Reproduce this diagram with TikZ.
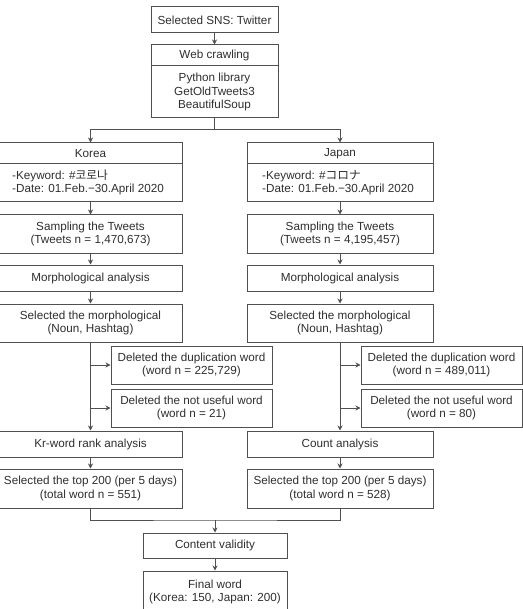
\documentclass[tikz,border=0pt]{standalone}
\usepackage{fontspec}
\setmainfont{Liberation Sans}
\newfontfamily\krfont{Noto Sans CJK KR}
\newfontfamily\jpfont{Noto Sans CJK JP}
\usetikzlibrary{arrows.meta}
\definecolor{ink}{HTML}{2E2E2E}
\definecolor{edge}{HTML}{505050}
\begin{document}
\begin{tikzpicture}[x=1pt,y=-1pt,
  box/.style={draw=edge, line width=1pt, text=ink, inner sep=0pt, align=center,
    font=\fontsize{11.7}{13.3}\selectfont},
  lbl/.style={text=ink, inner sep=0pt, align=center, font=\fontsize{11.7}{13.3}\selectfont},
  conn/.style={draw=edge, line width=1pt},
  arr/.style={conn, -{Stealth[length=5pt,width=5pt]}}]
\useasboundingbox (0,0) rectangle (522,609);
% top
\node[box, minimum width=127pt, minimum height=26pt] (sns) at (214.5,20) {Selected SNS: Twitter};
\node[box, minimum width=127pt, minimum height=73pt] (web) at (214.5,81.5) {};
\draw[conn] (web.west |- 0,66) -- (web.east |- 0,66);
\node[lbl] (webh) at (214.5,55.5) {Web crawling};
\node[lbl] (webb) at (214.5,92) {Python library\\GetOldTweets3\\BeautifulSoup};
\draw[arr] (sns) -- (web);
% countries
\node[box, minimum width=183pt, minimum height=59pt] (kor) at (90.5,172.5) {};
\draw[conn] (kor.west |- 0,164) -- (kor.east |- 0,164);
\node[lbl] (korh) at (90.5,154) {Korea};
\node[lbl, anchor=west, align=left] (korb) at (12,182.5) {-Keyword: \#{\krfont 코로나}\\-Date: 01.Feb.−30.April 2020};
\node[box, minimum width=186pt, minimum height=59pt] (jap) at (340,172.5) {};
\draw[conn] (jap.west |- 0,164) -- (jap.east |- 0,164);
\node[lbl] (japh) at (340,154) {Japan};
\node[lbl, anchor=west, align=left] (japb) at (262,182.5) {-Keyword: \#{\jpfont コロナ}\\-Date: 01.Feb.−30.April 2020};
\coordinate (split) at (214.5,130);
\draw[conn] (web.south) -- (split);
\draw[arr] (split) -| (kor.north);
\draw[arr] (split) -| (jap.north);
% Korea column
\node[box, minimum width=183pt, minimum height=38pt] (sampK) at (90.5,234) {Sampling the Tweets\\(Tweets n = 1,470,673)};
\node[box, minimum width=183pt, minimum height=26pt] (morphK) at (90.5,278) {Morphological analysis};
\node[box, minimum width=183pt, minimum height=38pt] (selK) at (90.5,323) {Selected the morphological\\(Noun, Hashtag)};
\node[box, minimum width=161pt, minimum height=38pt] (dupK) at (191.5,365) {Deleted the duplication word\\(word n = 225,729)};
\node[box, minimum width=161pt, minimum height=38pt] (useK) at (191.5,408) {Deleted the not useful word\\(word n = 21)};
\node[box, minimum width=183pt, minimum height=26pt] (rankK) at (90.5,444) {Kr-word rank analysis};
\node[box, minimum width=183pt, minimum height=39pt] (topK) at (90.5,488.5) {Selected the top 200 (per 5 days)\\(total word n = 551)};
\draw[arr] (kor) -- (sampK);
\draw[arr] (sampK) -- (morphK);
\draw[arr] (morphK) -- (selK);
\draw[arr] (selK) -- (rankK);
\draw[arr] (rankK) -- (topK);
\coordinate (kd) at (90.5,365);
\coordinate (ku) at (90.5,408);
\draw[arr] (kd) -- (dupK.west);
\draw[arr] (ku) -- (useK.west);
% Japan column
\node[box, minimum width=186pt, minimum height=38pt] (sampJ) at (340,234) {Sampling the Tweets\\(Tweets n = 4,195,457)};
\node[box, minimum width=186pt, minimum height=26pt] (morphJ) at (340,278) {Morphological analysis};
\node[box, minimum width=186pt, minimum height=38pt] (selJ) at (340,323) {Selected the morphological\\(Noun, Hashtag)};
\node[box, minimum width=161pt, minimum height=38pt] (dupJ) at (441.5,365) {Deleted the duplication word\\(word n = 489,011)};
\node[box, minimum width=161pt, minimum height=38pt] (useJ) at (441.5,408) {Deleted the not useful word\\(word n = 80)};
\node[box, minimum width=186pt, minimum height=26pt] (rankJ) at (340,444) {Count analysis};
\node[box, minimum width=186pt, minimum height=39pt] (topJ) at (340,488.5) {Selected the top 200 (per 5 days)\\(total word n = 528)};
\draw[arr] (jap) -- (sampJ);
\draw[arr] (sampJ) -- (morphJ);
\draw[arr] (morphJ) -- (selJ);
\draw[arr] (selJ) -- (rankJ);
\draw[arr] (rankJ) -- (topJ);
\coordinate (jd) at (340,365);
\coordinate (ju) at (340,408);
\draw[arr] (jd) -- (dupJ.west);
\draw[arr] (ju) -- (useJ.west);
% merge
\node[box, minimum width=144pt, minimum height=25pt] (valid) at (215,545.5) {Content validity};
\node[box, minimum width=144pt, minimum height=42pt] (final) at (215,592) {Final word\\(Korea: 150, Japan: 200)};
\coordinate (merge) at (215,520);
\draw[conn] (topK.south) |- (merge) -| (topJ.south);
\draw[arr] (merge) -- (valid);
\draw[arr] (valid) -- (final);
\end{tikzpicture}
\end{document}
